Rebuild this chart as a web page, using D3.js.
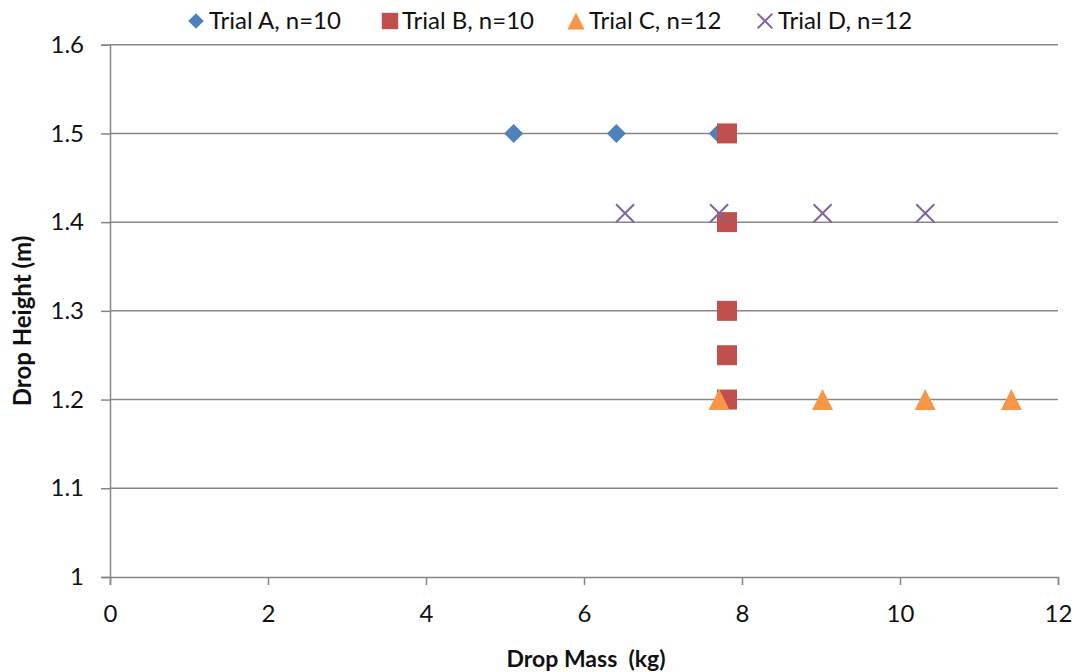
<!DOCTYPE html>
<html>
<head>
<meta charset="utf-8">
<script src="https://cdn.jsdelivr.net/npm/d3@7"></script>
<style>
  html, body { margin: 0; padding: 0; background: #fff; }
  svg { display: block; font-family: Lato, "Open Sans", "Liberation Sans", sans-serif; }
</style>
</head>
<body>
<svg id="chart" width="1081" height="672"></svg>
<script>
// Drop trials: mass (kg) vs drop height (m)
const trialAMass   = [5.11, 6.41, 7.70];
const trialAHeight = [1.5, 1.5, 1.5];
const trialBMass   = [7.81, 7.81, 7.81, 7.81, 7.81];
const trialBHeight = [1.5, 1.4, 1.3, 1.25, 1.2];
const trialCMass   = [7.71, 9.02, 10.32, 11.41];
const trialCHeight = [1.2, 1.2, 1.2, 1.2];
const trialDMass   = [6.52, 7.71, 9.02, 10.32];
const trialDHeight = [1.41, 1.41, 1.41, 1.41];

const seriesNames = ["Trial A, n=10", "Trial B, n=10", "Trial C, n=12", "Trial D, n=12"];
const xTicks = [0, 2, 4, 6, 8, 10, 12];
const yTicks = [1, 1.1, 1.2, 1.3, 1.4, 1.5, 1.6];

const series = [
  { name: seriesNames[0], xs: trialAMass, ys: trialAHeight, shape: "diamond",  color: "#4F81BD" },
  { name: seriesNames[1], xs: trialBMass, ys: trialBHeight, shape: "square",   color: "#C0504D" },
  { name: seriesNames[2], xs: trialCMass, ys: trialCHeight, shape: "triangle", color: "#F79646" },
  { name: seriesNames[3], xs: trialDMass, ys: trialDHeight, shape: "cross",    color: "#8064A2" }
];

const svg = d3.select("#chart");
const plotLeft = 110, plotRight = 1058, plotTop = 44.7, plotBottom = 577;

const x = d3.scaleLinear().domain([0, 12]).range([plotLeft, plotRight]);
const y = d3.scaleLinear().domain([1, 1.6]).range([plotBottom, plotTop]);

const gridColor = "#868686";
const textColor = "#111";

// Horizontal gridlines
svg.append("g")
  .selectAll("line")
  .data(yTicks.filter(v => v > 1))
  .join("line")
  .attr("x1", plotLeft).attr("x2", plotRight)
  .attr("y1", d => y(d)).attr("y2", d => y(d))
  .attr("stroke", gridColor).attr("stroke-width", 1.5);

// Y axis
const yAxis = svg.append("g")
  .attr("transform", `translate(${plotLeft},0)`)
  .call(d3.axisLeft(y).tickValues(yTicks).tickFormat(d3.format("")).tickSize(9).tickPadding(17));
yAxis.select(".domain").attr("stroke", gridColor).attr("stroke-width", 1.5);
yAxis.selectAll(".tick line").attr("stroke", gridColor).attr("stroke-width", 1.5);
yAxis.selectAll("text").attr("font-size", 24).attr("fill", textColor).attr("font-family", "Lato, sans-serif");

// X axis
const xAxis = svg.append("g")
  .attr("transform", `translate(0,${plotBottom})`)
  .call(d3.axisBottom(x).tickValues(xTicks).tickFormat(d3.format("d")).tickSize(8).tickPadding(20));
xAxis.select(".domain").attr("stroke", gridColor).attr("stroke-width", 1.5);
xAxis.selectAll(".tick line").attr("stroke", gridColor).attr("stroke-width", 1.5);
xAxis.selectAll("text").attr("font-size", 24).attr("fill", textColor).attr("font-family", "Lato, sans-serif");

// Marker shapes
function drawMarker(g, shape, color, cx, cy, scale) {
  const s = scale || 1;
  if (shape === "diamond") {
    const r = 9.5 * s;
    g.append("path")
      .attr("d", `M${cx},${cy - r}L${cx + r},${cy}L${cx},${cy + r}L${cx - r},${cy}Z`)
      .attr("fill", color);
  } else if (shape === "square") {
    const h = 10 * s;
    g.append("rect")
      .attr("x", cx - h).attr("y", cy - h)
      .attr("width", 2 * h).attr("height", 2 * h)
      .attr("fill", color);
  } else if (shape === "triangle") {
    const h = 10.5 * s;
    g.append("path")
      .attr("d", `M${cx},${cy - h}L${cx + h},${cy + h}L${cx - h},${cy + h}Z`)
      .attr("fill", color);
  } else if (shape === "cross") {
    const r = 9 * s;
    g.append("path")
      .attr("d", `M${cx - r},${cy - r}L${cx + r},${cy + r}M${cx - r},${cy + r}L${cx + r},${cy - r}`)
      .attr("stroke", color).attr("stroke-width", 2).attr("fill", "none");
  }
}

// Points, series drawn in order so later trials sit on top
const pts = svg.append("g");
series.forEach(s => {
  const g = pts.append("g");
  s.xs.forEach((mx, i) => drawMarker(g, s.shape, s.color, x(mx), y(s.ys[i])));
});

// Legend
const legendItems = [
  { mx: 196, tx: 209 },
  { mx: 390, tx: 402 },
  { mx: 576, tx: 589 },
  { mx: 765, tx: 778 }
];
const legend = svg.append("g");
series.forEach((s, i) => {
  const li = legendItems[i];
  const g = legend.append("g");
  drawMarker(g, s.shape, s.color, li.mx, 21, 0.82);
  g.append("text")
    .attr("x", li.tx).attr("y", 29)
    .attr("font-size", 24).attr("fill", textColor)
    .text(s.name);
});

// Axis titles
svg.append("text")
  .attr("x", 586).attr("y", 667)
  .attr("text-anchor", "middle")
  .attr("font-size", 23).attr("font-weight", "bold").attr("fill", textColor)
  .attr("xml:space", "preserve")
  .text("Drop Mass  (kg)");

svg.append("text")
  .attr("transform", "translate(31,321) rotate(-90)")
  .attr("text-anchor", "middle")
  .attr("font-size", 24).attr("font-weight", "bold").attr("fill", textColor)
  .text("Drop Height (m)");
</script>
</body>
</html>
